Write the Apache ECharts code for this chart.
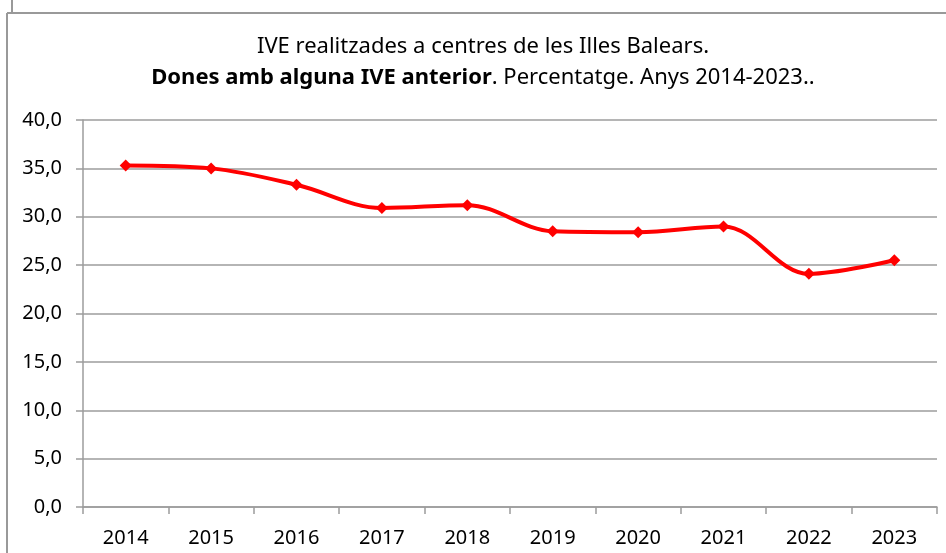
<!DOCTYPE html>
<html>
<head>
<meta charset="utf-8">
<script src="https://cdn.jsdelivr.net/npm/echarts@6/dist/echarts.min.js"></script>
<style>
  html, body { margin: 0; padding: 0; background: #fff; }
  #chart { width: 946px; height: 553px; }
</style>
</head>
<body>
<div id="chart"></div>
<script>
const years = ['2014', '2015', '2016', '2017', '2018', '2019', '2020', '2021', '2022', '2023'];
const percentatge = [35.3, 35.0, 33.3, 30.9, 31.2, 28.5, 28.4, 29.0, 24.1, 25.5];
const yTicks = { min: 0, max: 40, interval: 5 };

const font = 'Noto Sans';
const gridColor = '#9c9c9c';

var myChart = echarts.init(document.getElementById('chart'));
myChart.setOption({
  animation: false,
  textStyle: { fontFamily: font },
  title: {
    left: 478,
    top: 26,
    textAlign: 'center',
    text: '{n|IVE realitzades a centres de les Illes Balears.}\n{b|Dones amb alguna IVE anterior}{n|. Percentatge. Anys 2014-2023..}',
    textStyle: {
      rich: {
        n: { fontFamily: font, fontSize: 22, fontWeight: 'normal', color: '#000', lineHeight: 31 },
        b: { fontFamily: font, fontSize: 22, fontWeight: 'bold', color: '#000', lineHeight: 31 }
      }
    }
  },
  // marc gris del gràfic
  graphic: [
    { type: 'line', shape: { x1: 7, y1: 13, x2: 946, y2: 13 }, style: { stroke: '#999', lineWidth: 2 } },
    { type: 'line', shape: { x1: 7, y1: 13, x2: 7, y2: 553 }, style: { stroke: '#999', lineWidth: 2 } },
    { type: 'line', shape: { x1: 12, y1: 0, x2: 12, y2: 12 }, style: { stroke: '#999', lineWidth: 2 } }
  ],
  grid: { left: 83, right: 9, top: 120, bottom: 46, containLabel: false },
  xAxis: {
    type: 'category',
    data: years,
    boundaryGap: true,
    axisLine: { show: true, lineStyle: { color: gridColor, width: 1.5 } },
    axisTick: { show: true, length: 7, alignWithLabel: false, lineStyle: { color: gridColor, width: 1.5 } },
    axisLabel: { color: '#000', fontSize: 20, fontFamily: font, margin: 21 },
    splitLine: { show: false }
  },
  yAxis: {
    type: 'value',
    min: yTicks.min,
    max: yTicks.max,
    interval: yTicks.interval,
    axisLine: { show: true, lineStyle: { color: gridColor, width: 1.5 } },
    axisTick: { show: true, length: 7, lineStyle: { color: gridColor, width: 1.5 } },
    axisLabel: {
      color: '#000', fontSize: 20, fontFamily: font, margin: 21,
      formatter: v => v.toFixed(1).replace('.', ',')
    },
    splitLine: { show: true, lineStyle: { color: gridColor, width: 1.5 } }
  },
  series: [{
    type: 'line',
    data: percentatge,
    smooth: 0.35,
    symbol: 'diamond',
    symbolSize: 12,
    lineStyle: { color: '#ff0000', width: 4 },
    itemStyle: { color: '#ff0000' }
  }]
});
</script>
</body>
</html>
